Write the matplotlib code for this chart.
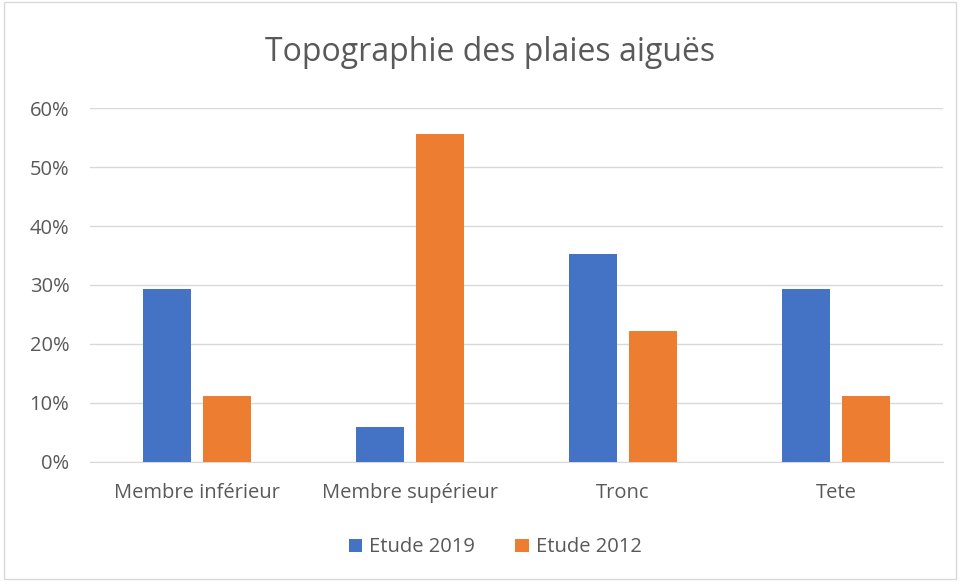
import numpy as np
from matplotlib import pyplot as plt
from matplotlib.ticker import PercentFormatter

# values (fractions)
categories = ["Membre inférieur", "Membre supérieur", "Tronc", "Tete"]
etude_2019 = [0.294, 0.059, 0.353, 0.294]
etude_2012 = [0.111, 0.556, 0.222, 0.111]
y_ticks = [0, 0.1, 0.2, 0.3, 0.4, 0.5, 0.6]

text_col = "#595959"
plt.rcParams['font.family'] = ['Open Sans', 'DejaVu Sans']

fig = plt.figure(figsize=(9.6, 5.81), dpi=100)
ax = fig.add_axes([0.094, 0.205, 0.888, 0.609])

x = np.arange(len(categories))
w = 0.225
ax.bar(x - 0.142, etude_2019, w, color="#4472C4", label="Etude 2019", zorder=3)
ax.bar(x + 0.142, etude_2012, w, color="#ED7D31", label="Etude 2012", zorder=3)

ax.set_xlim(-0.5, len(categories) - 0.5)
ax.set_ylim(0, 0.6)
ax.set_yticks(y_ticks)
ax.yaxis.set_major_formatter(PercentFormatter(1.0, decimals=0))
ax.grid(axis="y", color="#D9D9D9", linewidth=1, zorder=0)
ax.set_xticks(x)
ax.set_xticklabels(categories)
ax.tick_params(axis="both", length=0, labelsize=14.5, colors=text_col)
ax.tick_params(axis="y", pad=15)
ax.tick_params(axis="x", pad=15)
for s in ["top", "right", "left"]:
    ax.spines[s].set_visible(False)
ax.spines["bottom"].set_color("#D9D9D9")

fig.text(0.51, 0.91, "Topographie des plaies aiguës", ha="center", va="center",
         fontsize=23, color=text_col)

leg = fig.legend(loc="center", bbox_to_anchor=(0.516, 0.058), ncol=2, frameon=False,
                 fontsize=14.5, handlelength=0.65, handleheight=0.65, columnspacing=2.0,
                 handletextpad=0.35)
for t in leg.get_texts():
    t.set_color(text_col)

# outer chart border
fig.patches.append(plt.Rectangle((0.004, 0.004), 0.992, 0.992, transform=fig.transFigure,
                                 fill=False, edgecolor="#D9D9D9", linewidth=1))

plt.savefig("out.png", dpi=100)
